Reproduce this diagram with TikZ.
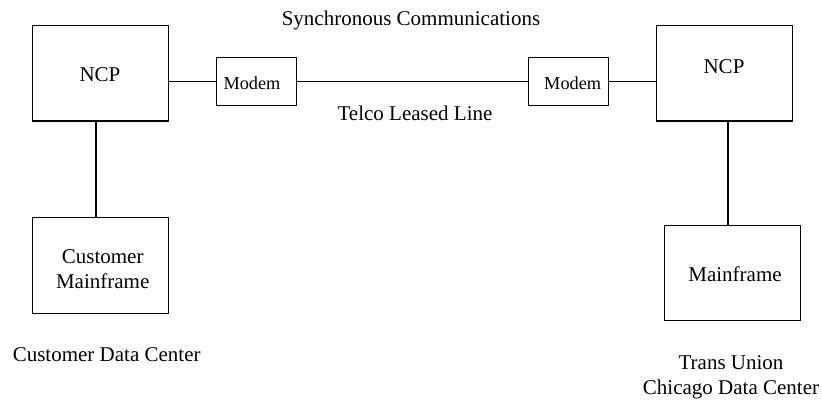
\documentclass[tikz,border=0pt]{standalone}
\usepackage{fontspec}
\setmainfont{Liberation Serif}
\begin{document}
\begin{tikzpicture}[x=1pt,y=-1pt,
  box/.style={draw,line width=1.1pt,inner sep=0pt,rectangle},
  txt/.style={font=\fontsize{21}{25}\selectfont,inner sep=0pt},
  mtxt/.style={font=\fontsize{18.3}{22}\selectfont,inner sep=0pt},
  wire/.style={line width=1.1pt}]
\useasboundingbox (0,0) rectangle (822,400);
% boxes
\node[box,minimum width=135.6pt,minimum height=95.3pt] (ncp1) at (100.5,73.3) {};
\node[box,minimum width=79.6pt,minimum height=47.6pt] (m1) at (256.5,81.5) {};
\node[box,minimum width=80.4pt,minimum height=47.6pt] (m2) at (568.5,81.5) {};
\node[box,minimum width=135.6pt,minimum height=95.3pt] (ncp2) at (724.5,73.3) {};
\node[box,minimum width=135.6pt,minimum height=95.6pt] (cm) at (100.5,265.5) {};
\node[box,minimum width=136pt,minimum height=95pt] (mf) at (732.3,273.2) {};
% texts
\node[txt,anchor=base] (t1) at (100,81) {NCP};
\node[txt,anchor=base] (t2) at (724,73.3) {NCP};
\node[mtxt,anchor=base] (t3) at (252,89.3) {Modem};
\node[mtxt,anchor=base] (t4) at (572.7,89.3) {Modem};
\node[txt,align=center] (t5) at (102.7,269.4) {Customer\\Mainframe};
\node[txt,anchor=base] (t6) at (735,281) {Mainframe};
\node[txt,anchor=base] (t7) at (411,25) {Synchronous Communications};
\node[txt,anchor=base] (t8) at (415,120.7) {Telco Leased Line};
\node[txt,anchor=base] (t9) at (106.7,361) {Customer Data Center};
\node[txt,align=center] (t10) at (731,377) {Trans Union\\Chicago Data Center};
% connectors
\draw[wire] (m1.west) -- (m1.west -| ncp1.east);
\draw[wire] (m1.east) -- (m2.west);
\draw[wire] (m2.east) -- (m2.east -| ncp2.west);
\draw[wire] ([xshift=-4.5pt]ncp1.south) -- ([xshift=-4.5pt]cm.north);
\draw[wire] ([xshift=3.5pt]ncp2.south) -- ([xshift=3.5pt]ncp2.south |- mf.north);
\end{tikzpicture}
\end{document}
